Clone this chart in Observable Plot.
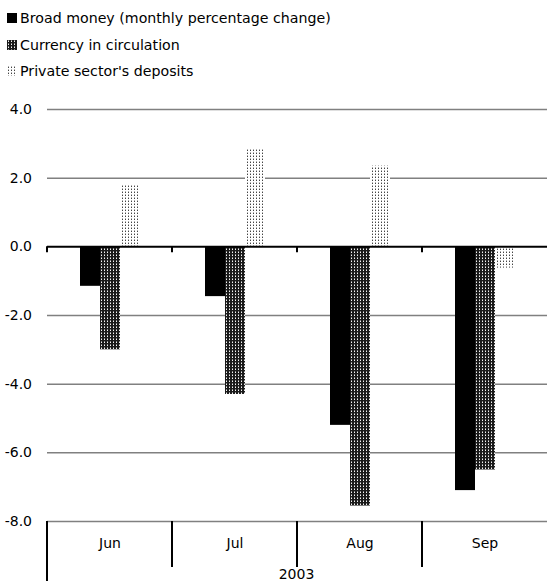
<!DOCTYPE html>
<html><head><meta charset="utf-8">
<script src="https://cdn.jsdelivr.net/npm/d3@7"></script>
<script src="https://cdn.jsdelivr.net/npm/@observablehq/plot@0.6"></script>
<style>
body{margin:0;background:#fff;font-family:"DejaVu Sans",sans-serif;color:#000;}
#legend{height:95px;position:relative;}
.item{position:absolute;left:7px;height:16px;font-size:14.2px;line-height:16px;display:flex;align-items:center;white-space:nowrap;}
.item svg{margin-right:3px;}
</style></head><body>
<svg width="0" height="0" style="position:absolute"><defs>
<pattern id="pCur" width="3" height="3" patternUnits="userSpaceOnUse">
<rect width="3" height="3" fill="#1a1a1a"/><rect x="1" y="1" width="1" height="1" fill="#f4f4f4"/><rect x="1" y="0" width="1" height="1" fill="#8a8a8a"/>
</pattern>
<pattern id="pDep" width="3" height="3" patternUnits="userSpaceOnUse">
<rect width="3" height="3" fill="#fff"/><rect x="1" y="1" width="1" height="1" fill="#444"/><rect x="1" y="0" width="1" height="1" fill="#b0b0b0"/>
</pattern>
</defs></svg>
<div id="legend"></div>
<div id="chart"></div>
<script>
const months = ["Jun", "Jul", "Aug", "Sep"];
const series = ["Broad money (monthly percentage change)", "Currency in circulation", "Private sector's deposits"];
const broadMoney = [-1.15, -1.45, -5.2, -7.1];
const currency = [-3.0, -4.3, -7.55, -6.5];
const deposits = [1.8, 2.85, 2.35, -0.62];
const yTicks = [4, 2, 0, -2, -4, -6, -8];
const yearLabel = "2003";
const fills = ["#000", "url(#pCur)", "url(#pDep)"];

const values = [broadMoney, currency, deposits];
const data = months.flatMap((m, i) => series.map((s, k) => ({month: m, series: s, value: values[k][i]})));

// legend
const legend = document.getElementById("legend");
series.forEach((s, k) => {
  const div = document.createElement("div");
  div.className = "item";
  div.style.top = (10 + k * 26.5) + "px";
  div.innerHTML = `<svg width="10" height="10"><rect width="10" height="10" fill="${fills[k]}"/></svg><span></span>`;
  div.querySelector("span").textContent = s;
  legend.appendChild(div);
});

const chart = Plot.plot({
  width: 547, height: 486,
  marginTop: 14, marginBottom: 60, marginLeft: 46, marginRight: 0,
  style: {fontFamily: "DejaVu Sans, sans-serif", fontSize: "14px", color: "#000", background: "transparent"},
  fx: {domain: months, padding: 0, axis: null},
  x: {domain: series, paddingInner: 0, paddingOuter: 1.5, axis: null},
  y: {domain: [-8, 4], ticks: yTicks, tickFormat: d => d.toFixed(1), tickSize: 0, tickPadding: 15.5, label: null},
  color: {domain: series, range: fills},
  marks: [
    Plot.ruleY(yTicks.filter(d => d !== 0), {stroke: "#808080", strokeWidth: 1.5}),
    Plot.barY(data, {fx: "month", x: "series", y: "value", fill: "series"}),
    Plot.ruleY([0], {stroke: "#000", strokeWidth: 2}),
    Plot.text(months, {fx: d => d, frameAnchor: "bottom", dy: 26.5, text: d => d, fill: "#000", fontSize: 14})
  ]
});
document.getElementById("chart").appendChild(chart);

// category separators and zero-line ticks, positioned by Plot's scales
const fx = chart.scale("fx");
const y = chart.scale("y");
const svg = d3.select(chart);
const y0 = y.apply(0), yb = y.apply(-8);
const g = svg.append("g").attr("stroke", "#000").attr("stroke-width", 2);
months.forEach((m, i) => {
  const x0 = fx.apply(m);
  g.append("line").attr("x1", x0).attr("x2", x0).attr("y1", y0).attr("y2", y0 + 6);
  g.append("line").attr("x1", x0).attr("x2", x0).attr("y1", yb).attr("y2", i === 0 ? 486 : yb + 46);
});
const xs = fx.range;
svg.append("text").attr("x", (xs[0] + xs[1]) / 2).attr("y", 480)
  .attr("text-anchor", "middle").attr("dominant-baseline", "middle")
  .attr("font-size", 14).attr("fill", "#000").text(yearLabel);
</script>
</body></html>
